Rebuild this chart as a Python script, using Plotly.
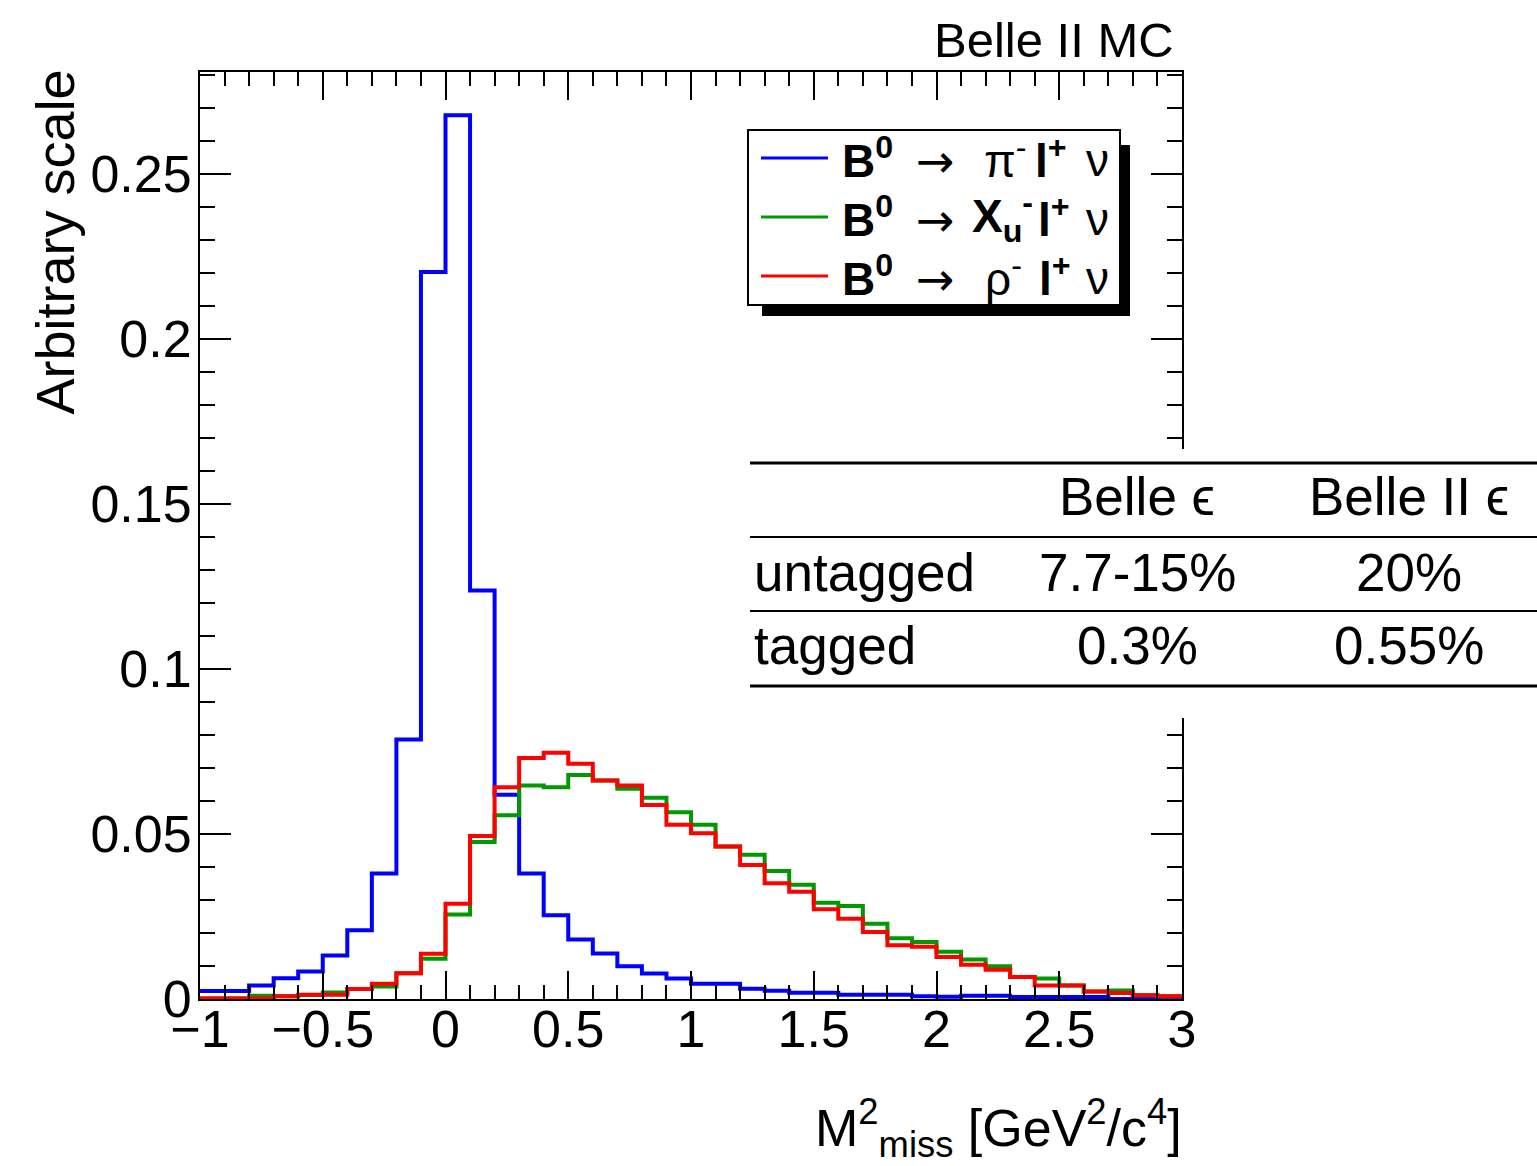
import plotly.graph_objects as go

# ---------------- data ----------------
bin_edges = [-1.0, -0.9, -0.8, -0.7, -0.6, -0.5, -0.4, -0.3, -0.2, -0.1,
             0.0, 0.1, 0.2, 0.3, 0.4, 0.5, 0.6, 0.7, 0.8, 0.9,
             1.0, 1.1, 1.2, 1.3, 1.4, 1.5, 1.6, 1.7, 1.8, 1.9,
             2.0, 2.1, 2.2, 2.3, 2.4, 2.5, 2.6, 2.7, 2.8, 2.9, 3.0]

pi_lnu = [0.0024, 0.0024, 0.0041, 0.0063, 0.0083, 0.0132, 0.0208, 0.0380, 0.0786, 0.2203,
          0.2678, 0.1238, 0.0619, 0.0380, 0.0254, 0.0180, 0.0138, 0.0099, 0.0077, 0.0062,
          0.0046, 0.0046, 0.0031, 0.0025, 0.0019, 0.0019, 0.0013, 0.0013, 0.0013, 0.0008,
          0.0007, 0.0010, 0.0010, 0.0006, 0.0006, 0.0006, 0.0006, 0.0000, 0.0005, 0.0001]

xu_lnu = [0.0001, 0.0001, 0.0010, 0.0008, 0.0012, 0.0020, 0.0030, 0.0038, 0.0078, 0.0122,
          0.0256, 0.0476, 0.0557, 0.0647, 0.0642, 0.0679, 0.0662, 0.0637, 0.0610, 0.0566,
          0.0528, 0.0462, 0.0437, 0.0388, 0.0346, 0.0292, 0.0282, 0.0228, 0.0184, 0.0173,
          0.0143, 0.0120, 0.0099, 0.0067, 0.0062, 0.0041, 0.0023, 0.0026, 0.0011, 0.0008]

rho_lnu = [0.0002, 0.0002, 0.0002, 0.0008, 0.0013, 0.0013, 0.0030, 0.0046, 0.0078, 0.0137,
           0.0289, 0.0494, 0.0642, 0.0730, 0.0746, 0.0713, 0.0662, 0.0647, 0.0588, 0.0528,
           0.0502, 0.0462, 0.0406, 0.0351, 0.0325, 0.0272, 0.0243, 0.0203, 0.0163, 0.0158,
           0.0127, 0.0104, 0.0089, 0.0067, 0.0041, 0.0041, 0.0023, 0.0018, 0.0011, 0.0008]

series_names = ["B0 → π- l+ ν", "B0 → Xu- l+ ν", "B0 → ρ- l+ ν"]
series_colors = ["#0000ff", "#009900", "#ff0000"]

table_header = ["", "Belle ϵ", "Belle II ϵ"]
table_rows = [["untagged", "7.7-15%", "20%"],
              ["tagged", "0.3%", "0.55%"]]

# ---------------- layout helpers ----------------
W, H = 1537, 1166
L, R, T, B = 200, 1182, 72, 999


def px(x):
    return (x - L) / (R - L)


def py(y):
    return (B - y) / (B - T)


FONT = "Liberation Sans, Arial, Helvetica, sans-serif"

fig = go.Figure()
for vals, name, col in zip([pi_lnu, xu_lnu, rho_lnu], series_names, series_colors):
    fig.add_trace(go.Scatter(
        x=bin_edges, y=vals + [vals[-1]], mode="lines", line_shape="hv",
        line=dict(color=col, width=4), name=name, showlegend=False))

axis_common = dict(showline=True, linecolor="black", linewidth=2, mirror="ticks",
                   ticks="inside", tickwidth=2, tickcolor="black",
                   showgrid=False, zeroline=False,
                   tickfont=dict(family=FONT, size=52, color="black"))

fig.update_xaxes(range=[-1, 3], tick0=-1, dtick=0.5, ticklen=28, ticklabelstandoff=-16,
                 minor=dict(ticks="inside", ticklen=14, dtick=0.1, tickwidth=2, tickcolor="black"),
                 **axis_common)
fig.update_yaxes(range=[0, (B - T) / 3300.0], tick0=0, dtick=0.05, ticklen=31, ticklabelstandoff=-4,
                 minor=dict(ticks="inside", ticklen=15, dtick=0.01, tickwidth=2, tickcolor="black"),
                 **axis_common)

shapes = []
annotations = []

# legend: shadow + box
shapes.append(dict(type="rect", xref="paper", yref="paper", x0=px(762), x1=px(1130), y0=py(316), y1=py(145),
                   fillcolor="black", line=dict(width=0)))
shapes.append(dict(type="rect", xref="paper", yref="paper", x0=px(748), x1=px(1120), y0=py(305), y1=py(130),
                   fillcolor="white", line=dict(color="black", width=2)))
row_y = [158, 217, 276]
for yy, col in zip(row_y, series_colors):
    shapes.append(dict(type="line", xref="paper", yref="paper", x0=px(761), x1=px(828), y0=py(yy), y1=py(yy),
                       line=dict(color=col, width=3)))

LF = dict(family=FONT, size=46, color="black")
AF = dict(family="DejaVu Sans, sans-serif", size=46, color="black")


def ann(x, y, text, xanchor="left", font=LF, yanchor="middle"):
    annotations.append(dict(x=px(x), y=py(y), xref="paper", yref="paper", text=text, showarrow=False,
                            xanchor=xanchor, yanchor=yanchor, font=font))


particles = [("π<sup>-</sup>", 982, 1033), ("<b>X</b><sub><b>u</b></sub><sup><b>-</b></sup>", 970, 1036),
             ("ρ<sup>-</sup>", 983, 1037)]
for yy, (p, xp, xl) in zip(row_y, particles):
    ann(840, yy, "<b>B<sup>0</sup></b>")
    ann(935, yy + 3, "→", xanchor="center", font=AF)
    ann(xp, yy, p)
    ann(xl, yy, "<b>l<sup>+</sup></b>")
    ann(1097, yy + 2, "ν", xanchor="center")

# table: white background covering frame, rules, text
shapes.append(dict(type="rect", xref="paper", yref="paper", x0=px(748), x1=px(1537), y0=py(718), y1=py(449),
                   fillcolor="white", line=dict(width=0)))
for yy, lw in [(463, 3), (537, 2), (611, 2), (686, 3)]:
    shapes.append(dict(type="line", xref="paper", yref="paper", x0=px(750), x1=px(1537), y0=py(yy), y1=py(yy),
                       line=dict(color="black", width=lw)))

TF = dict(family=FONT, size=53, color="black")
col_x = [752, 1137, 1409]
row_ty = [497, 572, 645]
for ci, txt in enumerate(table_header):
    if txt:
        ann(col_x[ci], row_ty[0], txt, xanchor="center", font=TF)
for ri, row in enumerate(table_rows):
    for ci, txt in enumerate(row):
        ann(col_x[ci], row_ty[ri + 1], txt, xanchor="left" if ci == 0 else "center", font=TF)

# titles
ann(1176, 40, "Belle II MC", xanchor="right", font=dict(family=FONT, size=49, color="black"))
annotations.append(dict(x=px(55), y=py(68), xref="paper", yref="paper", text="Arbitrary scale",
                        showarrow=False, textangle=-90, xanchor="center", yanchor="top",
                        font=dict(family=FONT, size=54, color="black")))
ann(1184, 1128, "M<sup>2</sup><sub>miss</sub> [GeV<sup>2</sup>/c<sup>4</sup>]", xanchor="right",
    font=dict(family=FONT, size=52, color="black"))

fig.update_layout(width=W, height=H, margin=dict(l=L, r=W - R, t=T, b=H - B),
                  paper_bgcolor="white", plot_bgcolor="white", showlegend=False,
                  shapes=shapes, annotations=annotations)

fig.write_html("out.html")
